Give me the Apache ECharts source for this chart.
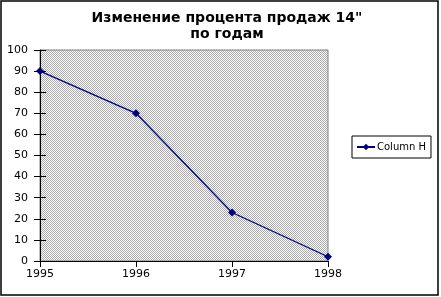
<!DOCTYPE html>
<html><head><meta charset="utf-8">
<script src="https://cdn.jsdelivr.net/npm/echarts@6/dist/echarts.min.js"></script>
<style>html,body{margin:0;padding:0;background:#fff}#c{width:441px;height:297px}</style>
</head><body><div id="c"></div>
<script>
const years = ['1995', '1996', '1997', '1998'];
const columnH = [90, 70, 23, 2];
const yTicks = [0, 10, 20, 30, 40, 50, 60, 70, 80, 90, 100];

const pc = document.createElement('canvas');
pc.width = 2; pc.height = 2;
const px = pc.getContext('2d');
px.fillStyle = '#ffffff'; px.fillRect(0, 0, 2, 2);
px.fillStyle = '#a8a8a8'; px.fillRect(0, 0, 1, 1); px.fillRect(1, 1, 1, 1);

const font = 'DejaVu Sans';
const chart = echarts.init(document.getElementById('c'), null, {renderer: 'canvas'});
chart.setOption({
  animation: false,
  backgroundColor: '#fff',
  title: {
    text: 'Изменение процента продаж 14"\nпо годам',
    left: 222, textAlign: 'center', top: 5,
    textStyle: {fontFamily: font, fontSize: 14, fontWeight: 'bold', color: '#000', lineHeight: 16}
  },
  legend: {
    left: 352, top: 136, width: 80,
    orient: 'vertical',
    borderColor: '#000', borderWidth: 1, padding: [6, 5, 6, 4],
    itemWidth: 18, itemHeight: 8, itemGap: 0,
    textStyle: {fontFamily: font, fontSize: 10, color: '#000', padding: [0, 0, 0, -3]},
    data: ['Column H']
  },
  grid: {
    left: 40, right: 113, top: 50, bottom: 36,
    show: true, borderColor: '#808080', borderWidth: 1,
    backgroundColor: {image: pc, repeat: 'repeat'}
  },
  xAxis: {
    type: 'category', data: years, boundaryGap: false,
    axisLine: {lineStyle: {color: '#000', width: 1}},
    axisTick: {length: 6, lineStyle: {color: '#000'}},
    axisLabel: {fontFamily: font, fontSize: 11, color: '#000', margin: 8},
    splitLine: {show: false}
  },
  yAxis: [{
    type: 'value', min: 0, max: 100, interval: 10,
    axisLine: {show: true, lineStyle: {color: '#000', width: 1}},
    axisTick: {show: true, length: 6, lineStyle: {color: '#000'}},
    axisLabel: {fontFamily: font, fontSize: 11, color: '#000', margin: 12},
    splitLine: {show: false}
  }, {
    type: 'value', min: 0, max: 100, interval: 10, position: 'left',
    axisLine: {show: false},
    axisTick: {show: true, inside: true, length: 6, lineStyle: {color: '#000'}},
    axisLabel: {show: false},
    splitLine: {show: false}
  }],
  series: [{
    name: 'Column H', type: 'line', data: columnH,
    color: '#000080',
    lineStyle: {color: '#000080', width: 1.3},
    itemStyle: {color: '#000080'},
    symbol: 'diamond', symbolSize: 8, showSymbol: true
  }],
  graphic: [{
    type: 'rect', shape: {x: 1, y: 1, width: 437, height: 294},
    style: {fill: 'none', stroke: '#000', lineWidth: 1.5}, silent: true, z: 100
  }]
});
</script></body></html>
